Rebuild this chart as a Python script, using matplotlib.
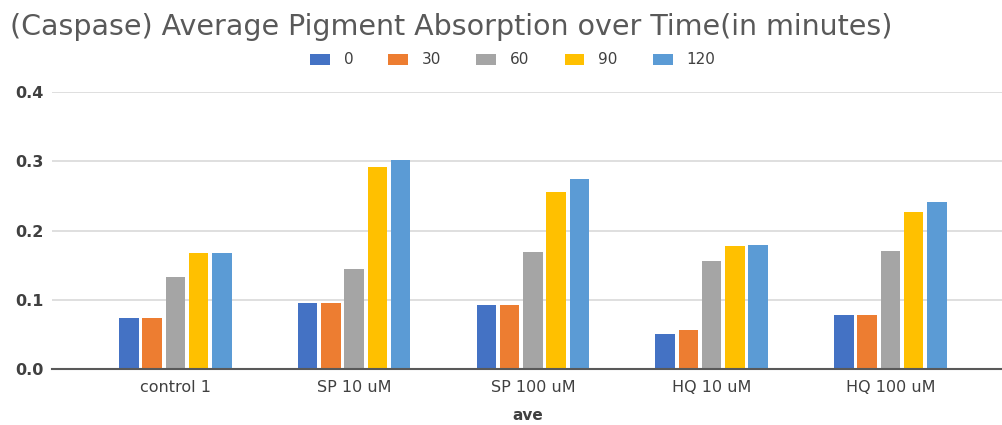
import matplotlib.pyplot as plt
import numpy as np

categories = ["control 1", "SP 10 uM", "SP 100 uM", "HQ 10 uM", "HQ 100 uM"]
times = ["0", "30", "60", "90", "120"]
t0 = [0.074, 0.095, 0.093, 0.051, 0.078]
t30 = [0.074, 0.095, 0.093, 0.056, 0.078]
t60 = [0.133, 0.145, 0.169, 0.156, 0.171]
t90 = [0.168, 0.292, 0.256, 0.178, 0.227]
t120 = [0.168, 0.302, 0.274, 0.179, 0.241]
colors = ["#4472C4", "#ED7D31", "#A5A5A5", "#FFC000", "#5B9BD5"]


def main():
    plt.rcParams["font.family"] = ["DejaVu Sans"]
    series = [t0, t30, t60, t90, t120]
    x = np.arange(len(categories))

    fig = plt.figure(figsize=(10.03, 4.25), dpi=100)
    ax = fig.add_axes([52 / 1003, 1 - 369 / 425, 1 - 52 / 1003, 277 / 425])

    pitch = 0.13
    width = 0.11
    for i, (vals, c, lab) in enumerate(zip(series, colors, times)):
        ax.bar(x + (i - 2) * pitch, vals, width=width, color=c, label=lab, zorder=3)

    ax.set_ylim(0, 0.4)
    ax.set_xlim(-0.69, 4.63)
    ax.set_yticks([0.0, 0.1, 0.2, 0.3, 0.4])
    ax.set_yticklabels(["0.0", "0.1", "0.2", "0.3", "0.4"],
                       fontsize=11.5, fontweight="bold", color="#404040")
    ax.set_xticks(x)
    ax.set_xticklabels(categories, fontsize=11.5, color="#404040")
    ax.tick_params(length=0)
    ax.tick_params(axis="x", pad=8)
    ax.tick_params(axis="y", pad=6)
    ax.grid(axis="y", color="#D9D9D9", linewidth=1.2, zorder=0)
    for s in ["top", "right", "left"]:
        ax.spines[s].set_visible(False)
    ax.spines["bottom"].set_color("#595959")
    ax.spines["bottom"].set_linewidth(1.5)
    ax.spines["bottom"].set_zorder(4)

    ax.set_xlabel("ave", fontsize=11, fontweight="bold", color="#404040", labelpad=9)

    fig.text(0.01, 1 - 27 / 425, "(Caspase) Average Pigment Absorption over Time(in minutes)",
             fontsize=20.5, color="#595959", va="center")

    fig.legend(loc="center", bbox_to_anchor=(0.511, 1 - 60 / 425), ncol=5, frameon=False,
               fontsize=11, handlelength=1.3, handleheight=0.75, columnspacing=2.3,
               handletextpad=0.9, labelcolor="#404040")

    fig.savefig("out.png", dpi=100)


if __name__ == "__main__":
    main()
